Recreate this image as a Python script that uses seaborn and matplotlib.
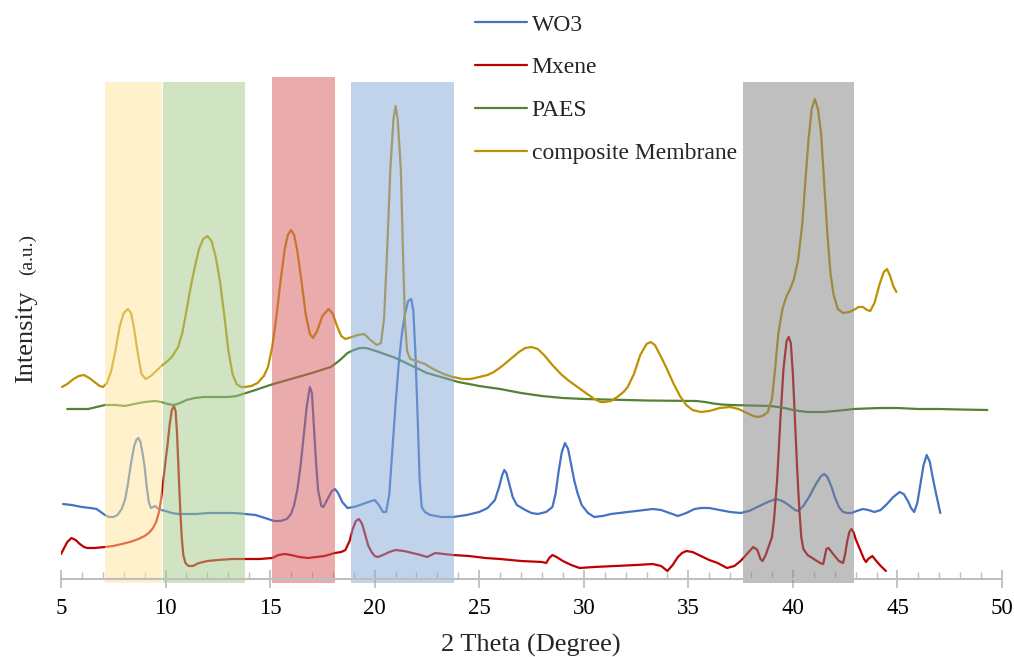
import matplotlib
matplotlib.use("Agg")
import matplotlib.pyplot as plt
import seaborn as sns
import pandas as pd
from matplotlib.ticker import MultipleLocator

# ---------------- data (2 Theta, intensity a.u.) ----------------
comp_x = [5.05, 5.3, 5.6, 5.85, 6.1, 6.35, 6.6, 6.85, 7.0, 7.2, 7.4, 7.6, 7.8, 8.0, 8.2, 8.35, 8.5, 8.7,
          8.85, 9.05, 9.3, 9.6, 9.85, 10.1, 10.3, 10.6, 10.8, 11.0, 11.2, 11.4, 11.6, 11.8, 12.0, 12.2, 12.4,
          12.6, 12.8, 13.0, 13.2, 13.4, 13.6, 13.8, 14.1, 14.4, 14.7, 14.9, 15.1, 15.3, 15.5, 15.7, 15.85,
          16.0, 16.15, 16.3, 16.5, 16.7, 16.9, 17.05, 17.25, 17.5, 17.8, 18.0, 18.2, 18.4, 18.6, 18.9, 19.2,
          19.5, 19.8, 20.1, 20.3, 20.45, 20.6, 20.75, 20.9, 21.0, 21.1, 21.25, 21.35, 21.45, 21.55, 21.7,
          22.0, 22.4, 22.8, 23.3, 23.75, 24.2, 24.6, 25.0, 25.4, 25.7, 26.1, 26.5, 26.9, 27.2, 27.5, 27.8,
          28.1, 28.5, 28.9, 29.3, 29.7, 30.1, 30.5, 30.8, 31.0, 31.3, 31.6, 31.9, 32.1, 32.4, 32.7, 33.0,
          33.2, 33.4, 33.7, 34.0, 34.3, 34.6, 34.9, 35.2, 35.6, 36.0, 36.5, 37.0, 37.4, 37.8, 38.1, 38.3,
          38.55, 38.8, 39.0, 39.15, 39.3, 39.5, 39.7, 39.85, 40.05, 40.25, 40.45, 40.6, 40.75, 40.9, 41.05,
          41.2, 41.35, 41.5, 41.65, 41.8, 41.95, 42.15, 42.4, 42.7, 42.9, 43.15, 43.35, 43.55, 43.7, 43.9,
          44.15, 44.35, 44.5, 44.65, 44.8, 44.95]
comp_y = [192, 195, 200, 203, 204, 201, 197, 193, 192, 196, 208, 228, 252, 266, 270, 266, 250, 222,
          205, 200, 203, 209, 214, 218, 222, 232, 246, 268, 292, 312, 330, 340, 343, 338, 322,
          298, 265, 229, 205, 195, 192, 192, 193, 196, 203, 212, 232, 262, 298, 330, 344,
          349, 344, 328, 298, 265, 245, 241, 248, 263, 270, 265, 253, 243, 240, 242, 244,
          245, 239, 234, 236, 260, 330, 410, 460, 473, 460, 410, 330, 256, 228, 220,
          218, 215, 210, 205, 202, 200, 200, 202, 204, 207, 213, 220, 227, 231, 232, 230,
          224, 214, 205, 198, 192, 186, 180, 177, 177, 178, 182, 187, 192, 205, 224, 235,
          237, 234, 222, 209, 195, 183, 174, 169, 167, 168, 171, 172, 170, 166, 163, 162,
          163, 167, 180, 210, 245, 270, 283, 289, 300, 319, 355, 399, 440, 470, 480,
          470, 445, 395, 345, 305, 284, 270, 266, 267, 269, 272, 272, 269, 268, 276,
          295, 307, 310, 303, 293, 287]

paes_x = [5.3, 5.8, 6.3, 6.7, 7.1, 7.6, 8.06, 8.5, 9.0, 9.5, 9.8, 10.1, 10.4, 10.7, 11.0, 11.4, 11.8, 12.2,
          12.6, 13.0, 13.4, 13.7, 14.0, 14.3, 15.0, 16.0, 17.0, 17.6, 17.9, 18.1, 18.4, 18.7, 19.0, 19.3,
          19.6, 19.9, 20.2, 20.6, 21.0, 21.5, 22.0, 22.5, 23.0, 23.5, 24.0, 24.5, 25.0, 26.0, 27.0, 28.0,
          29.0, 30.0, 31.0, 33.0, 35.4, 35.8, 36.2, 36.6, 37.0, 38.0, 38.9, 39.3, 39.7, 40.0, 40.3, 40.7,
          41.0, 41.5, 42.0, 42.5, 42.9, 43.5, 44.2, 45.0, 46.0, 47.0, 48.0, 49.3]
paes_y = [170, 170, 170, 172, 174, 174, 173, 175, 177, 178, 177, 175, 174, 176, 179, 181, 182, 182,
          182, 182, 183, 185, 187, 189, 194, 200, 206, 210, 212, 215, 220, 226, 229, 231,
          231, 229, 227, 224, 221, 216, 211, 206, 203, 200, 197, 195, 193, 190, 186, 183,
          181, 180, 179.5, 178.5, 178, 177, 175.5, 174.5, 174, 173.5, 173, 172, 170.5, 169, 168, 167,
          167, 167, 168, 169, 170, 170.5, 171, 171, 170, 170, 169.5, 169]

wo3_x = [5.1, 5.5, 6.0, 6.4, 6.7, 6.9, 7.1, 7.3, 7.5, 7.7, 7.9, 8.06, 8.2, 8.35, 8.5, 8.6, 8.7, 8.8, 8.9,
         9.0, 9.1, 9.2, 9.3, 9.4, 9.5, 9.6, 9.8, 10.0, 10.3, 10.6, 11.0, 11.5, 12.0, 12.7, 13.3, 13.8, 14.3,
         14.6, 14.9, 15.2, 15.5, 15.8, 16.0, 16.15, 16.3, 16.45, 16.6, 16.75, 16.9, 17.0, 17.1, 17.2, 17.3,
         17.45, 17.55, 17.75, 17.95, 18.1, 18.25, 18.45, 18.7, 19.0, 19.3, 19.7, 20.0, 20.2, 20.4, 20.55,
         20.7, 20.85, 21.0, 21.15, 21.3, 21.45, 21.6, 21.75, 21.85, 21.95, 22.05, 22.15, 22.25, 22.4, 22.65,
         23.2, 23.75, 24.4, 25.0, 25.4, 25.75, 25.95, 26.1, 26.2, 26.3, 26.45, 26.6, 26.8, 27.2, 27.5, 27.8,
         28.2, 28.5, 28.65, 28.8, 28.95, 29.1, 29.25, 29.4, 29.55, 29.7, 29.9, 30.2, 30.5, 30.9, 31.3, 31.7,
         32.5, 33.3, 33.7, 34.1, 34.5, 34.9, 35.3, 35.6, 36.0, 36.5, 37.0, 37.5, 37.9, 38.3, 38.8, 39.2,
         39.5, 39.8, 40.1, 40.25, 40.5, 40.8, 41.1, 41.35, 41.5, 41.65, 41.85, 42.0, 42.2, 42.4, 42.6, 42.8,
         43.05, 43.35, 43.6, 43.9, 44.2, 44.5, 44.8, 45.1, 45.3, 45.5, 45.65, 45.8, 45.95, 46.1, 46.25, 46.4,
         46.55, 46.7, 46.85, 47.05]
wo3_y = [75, 74, 72, 71, 70, 67, 64, 62, 62, 64, 70, 79, 95, 116, 133, 139, 141, 137, 126,
         112, 92, 77, 71, 72, 73, 71, 69, 68, 66, 65, 65, 65, 66, 66, 66, 65, 64,
         62, 60, 58, 58, 60, 65, 74, 89, 112, 142, 172, 192, 186, 150, 115, 88,
         73, 72, 80, 88, 90, 86, 77, 71, 72, 74, 77, 79, 74, 67, 67,
         85, 130, 175, 215, 245, 265, 278, 280, 268, 225, 165, 100, 72, 67, 64,
         62, 62, 64, 67, 71, 79, 92, 104, 109, 106, 94, 82, 74, 69, 66, 65,
         67, 72, 85, 108, 127, 136, 130, 114, 98, 86, 74, 66, 62, 63, 65, 66,
         68, 70, 69, 66, 63, 66, 70, 71, 71, 69, 67, 66, 68, 72, 77, 80,
         78, 74, 69, 68, 73, 83, 95, 103, 105, 102, 92, 82, 72, 67, 66, 66,
         68, 70, 69, 67, 69, 75, 82, 87, 85, 78, 71, 67, 76, 95, 114, 124,
         117, 100, 85, 66]

mx_x = [5.0, 5.15, 5.3, 5.5, 5.7, 5.9, 6.1, 6.25, 6.6, 7.1, 7.5, 7.9, 8.3, 8.7, 9.0, 9.2, 9.4, 9.55, 9.7,
        9.8, 9.9, 10.0, 10.1, 10.2, 10.3, 10.4, 10.48, 10.55, 10.62, 10.7, 10.78, 10.85, 10.95, 11.1, 11.3,
        11.6, 12.0, 12.5, 13.2, 13.8, 14.5, 15.1, 15.4, 15.7, 16.0, 16.4, 16.8, 17.2, 17.6, 18.1, 18.4,
        18.6, 18.8, 18.95, 19.1, 19.25, 19.4, 19.55, 19.7, 19.85, 20.0, 20.15, 20.4, 20.7, 21.0, 21.4,
        21.8, 22.2, 22.5, 22.7, 22.9, 23.3, 23.75, 24.5, 25.3, 26.0, 27.0, 28.0, 28.2, 28.35, 28.5, 28.7,
        29.0, 29.4, 29.8, 30.5, 31.5, 32.5, 33.3, 33.7, 34.0, 34.25, 34.5, 34.7, 34.9, 35.2, 35.6, 36.0,
        36.4, 36.85, 37.2, 37.5, 37.8, 38.1, 38.3, 38.45, 38.55, 38.7, 38.85, 39.0, 39.1, 39.25, 39.4,
        39.55, 39.7, 39.8, 39.9, 40.0, 40.1, 40.2, 40.3, 40.4, 40.5, 40.7, 41.0, 41.3, 41.45, 41.5, 41.6,
        41.7, 41.85, 42.0, 42.2, 42.4, 42.5, 42.6, 42.7, 42.8, 42.9, 43.0, 43.2, 43.4, 43.5, 43.6, 43.8,
        43.95, 44.2, 44.45]
mx_y = [25, 31, 37, 41, 39, 35, 32, 31, 31, 32, 33, 35, 37, 40, 43, 46, 51, 57, 68,
        82, 100, 118, 135, 155, 169, 173, 168, 145, 110, 70, 40, 24, 16, 13, 13,
        16, 18, 19, 20, 20, 20, 21, 24, 25, 24, 22, 21, 22, 23, 26, 27,
        29, 38, 50, 58, 60, 55, 44, 33, 27, 23, 22, 24, 27, 29, 28,
        26, 24, 22, 24, 26, 25, 24, 23, 21, 20, 18, 17, 16, 21, 24, 22,
        18, 14, 11, 12, 13, 14, 15, 13, 8, 14, 22, 26, 28, 27, 23, 19,
        16, 11, 13, 18, 25, 32, 29, 20, 18, 24, 33, 42, 60, 100, 159,
        210, 238, 242, 236, 205, 159, 112, 72, 42, 30, 24, 20, 16, 15, 20, 30,
        31, 27, 23, 18, 16, 25, 38, 47, 50, 47, 40, 30, 20, 17, 20, 23,
        19, 13, 8]

series_names = ["WO3", "Mxene", "PAES", "composite Membrane"]
series_colors = ["#4472C4", "#C00000", "#548235", "#BF9000"]

# highlight bands: (start, end, top, displayed colour)
band_start = [7.1, 9.88, 15.09, 18.87, 37.6]
band_end = [9.83, 13.8, 18.1, 23.8, 42.9]
band_top = [497, 497, 502, 497, 497]
band_colors = [(255, 242, 204), (209, 228, 196), (234, 172, 172), (194, 211, 236), (192, 192, 192)]

# ---------------- build long table ----------------
frames = []
for name, xs, ys in zip(series_names, [wo3_x, mx_x, paes_x, comp_x], [wo3_y, mx_y, paes_y, comp_y]):
    frames.append(pd.DataFrame({"theta": xs, "intensity": ys, "sample": name}))
df = pd.concat(frames, ignore_index=True)

sns.set_theme(style="white")
plt.rcParams["font.family"] = ["Liberation Serif", "DejaVu Serif"]

W, H = 1014, 657
fig = plt.figure(figsize=(W / 100, H / 100), dpi=100)
ax = fig.add_axes([61 / W, 78 / H, 941 / W, 579 / H])

sns.lineplot(data=df, x="theta", y="intensity", hue="sample", hue_order=series_names,
             palette=series_colors, estimator=None, sort=False, linewidth=1.6, ax=ax, zorder=2)
for ln in ax.get_lines():
    ln.set_solid_joinstyle("round")

alpha = 0.5
for s, e, t, c in zip(band_start, band_end, band_top, band_colors):
    base = tuple(max(0.0, min(1.0, (255 - (255 - v) / alpha) / 255)) for v in c)
    ax.axvspan(s, e, ymin=-4 / 579, ymax=t / 579, facecolor=base, alpha=alpha,
               edgecolor="none", zorder=3, clip_on=False)

ax.set_xlim(5, 50)
ax.set_ylim(0, 579)
ax.set_yticks([])
ax.set_xticks(range(5, 51, 5))
ax.xaxis.set_minor_locator(MultipleLocator(1))
for sp in ["left", "top", "right"]:
    ax.spines[sp].set_visible(False)
ax.spines["bottom"].set_color("#BFBFBF")
ax.spines["bottom"].set_linewidth(1.5)
ax.spines["bottom"].set_zorder(4)
ax.tick_params(axis="x", which="major", direction="inout", length=13, width=1.3,
               color="#BFBFBF", labelsize=16.5, pad=7, bottom=True)
ax.tick_params(axis="x", which="minor", direction="in", length=5, width=1.0,
               color="#BFBFBF", bottom=True)
for lab in ax.get_xticklabels():
    lab.set_color("black")
ax.set_xlabel("")
ax.set_ylabel("")

fig.text(531 / W, 1 - 652 / H, "2 Theta (Degree)", ha="center", va="baseline", fontsize=19)
fig.text(32 / W, 1 - 337 / H, "Intensity", rotation=90, rotation_mode="anchor",
         ha="center", va="baseline", fontsize=19)
fig.text(32 / W, 1 - 255 / H, "(a.u.)", rotation=90, rotation_mode="anchor",
         ha="center", va="baseline", fontsize=14)

handles, labels = ax.get_legend_handles_labels()
ax.legend(handles, labels, loc="upper left", bbox_to_anchor=(475 / W, 1 - 14 / H),
          bbox_transform=fig.transFigure, frameon=False, fontsize=17, labelspacing=0.9,
          handlelength=2.2, handletextpad=0.2, borderpad=0, borderaxespad=0)

fig.savefig("out.png", dpi=100)
